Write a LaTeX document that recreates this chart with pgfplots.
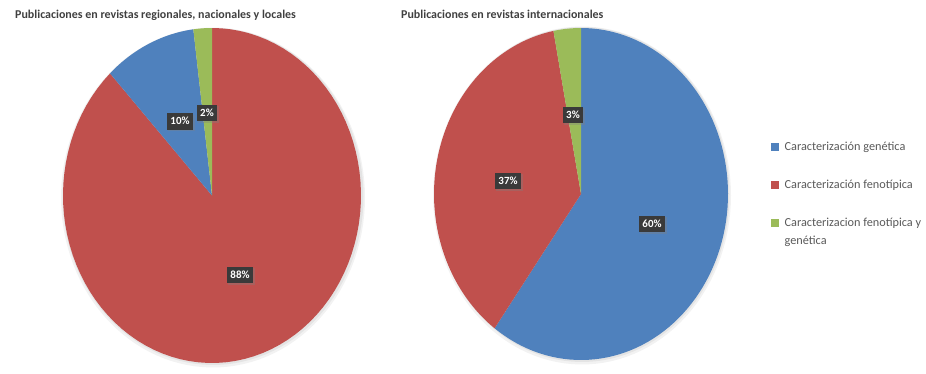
\documentclass[border=0pt]{standalone}
\usepackage{fontspec}
\setmainfont{Carlito}
\usepackage{pgfplots}
\pgfplotsset{compat=1.18}
\usetikzlibrary{shadows}
\definecolor{xblue}{HTML}{4F81BD}
\definecolor{xred}{HTML}{C0504D}
\definecolor{xgreen}{HTML}{9BBB59}
\definecolor{lbl}{HTML}{3A3A3A}
\definecolor{ttl}{HTML}{404040}
\definecolor{lgt}{HTML}{595959}

% data (percent)
% Pie 1: regionales, nacionales y locales
\def\Ogen{10}\def\Ofen{88}\def\Oamb{2}
% Pie 2: internacionales
\def\Tgen{60}\def\Tfen{37}\def\Tamb{3}

% angles (clockwise from the top)
\pgfmathsetmacro\aA{90-3.6*\Ofen}
\pgfmathsetmacro\aB{\aA-3.6*\Ogen}
\pgfmathsetmacro\aC{\aB-3.6*\Oamb}
\pgfmathsetmacro\bA{90-3.6*\Tgen}
\pgfmathsetmacro\bB{\bA-3.6*\Tfen}
\pgfmathsetmacro\bC{\bB-3.6*\Tamb}

\newcommand{\pieslice}[7]{%
  \addplot[forget plot, fill=#7, draw=none, domain=#5:#6, samples=90]
    ({#1+#3*cos(x)},{#2-#4*sin(x)}) -- (axis cs:#1,#2) -- cycle;
}
\newcommand{\pieshadow}[5]{%
  \addplot[forget plot, fill=black, draw=none, fill opacity=#5, domain=0:360, samples=120]
    ({#1+#3*cos(x)},{#2-#4*sin(x)}) -- cycle;
}

\tikzset{lblbox/.style={fill=lbl, text=white, font=\bfseries\fontsize{11}{12}\selectfont,
  inner xsep=3.5bp, inner ysep=3.5bp, text height=8bp, text depth=1.5bp,
  drop shadow={opacity=0.35, shadow xshift=1.5bp, shadow yshift=-1.5bp}}}

\begin{document}
\begin{tikzpicture}
\begin{axis}[
  width=926bp, height=374bp, scale only axis,
  xmin=0, xmax=926, ymin=0, ymax=374, y dir=reverse,
  hide axis, clip=false,
  legend image code/.code={\fill[#1] (0bp,0.3bp) rectangle (7bp,7.3bp);},
  legend style={at={(axis cs:771,139)}, anchor=north west, draw=none, fill=none,
    inner sep=0pt, row sep=23.5bp, column sep=4bp,
    font=\fontsize{12.3}{18}\selectfont, text=lgt,
    cells={anchor=base west, inner xsep=0pt, inner ysep=0pt, text height=9bp, text depth=3bp}},
]
\path (axis cs:0,0) rectangle (axis cs:926,374);
% soft shadows
\pieshadow{213}{197.5}{152}{170}{0.05}
\pieshadow{213}{196.5}{150.5}{168.5}{0.06}
\pieshadow{582}{195.5}{149}{169}{0.05}
\pieshadow{582}{194.5}{147.5}{167.5}{0.06}
% pie 1
\pieslice{212}{195.5}{149}{167.5}{\aA}{90}{xred}
\pieslice{212}{195.5}{149}{167.5}{\aB}{\aA}{xblue}
\pieslice{212}{195.5}{149}{167.5}{\aC}{\aB}{xgreen}
% pie 2
\pieslice{581}{194}{147}{166}{\bA}{90}{xblue}
\pieslice{581}{194}{147}{166}{\bB}{\bA}{xred}
\pieslice{581}{194}{147}{166}{\bC}{\bB}{xgreen}

\addlegendimage{xblue}
\addlegendimage{xred}
\addlegendimage{xgreen}
\legend{Caracterización genética, Caracterización fenotípica, {\begin{tabular}[t]{@{}l@{}}Caracterizacion fenotípica y\\genética\end{tabular}}}

% data labels
\node[lblbox] at (axis cs:180,121.5) {10\%};
\node[lblbox] at (axis cs:207,113) {2\%};
\node[lblbox] at (axis cs:240,275) {88\%};
\node[lblbox] at (axis cs:573,115) {3\%};
\node[lblbox] at (axis cs:508,181) {37\%};
\node[lblbox] at (axis cs:652,224) {60\%};

% titles
\node[anchor=base west, font=\bfseries\fontsize{12}{14}\selectfont, text=ttl, inner sep=0pt]
  at (axis cs:15,19) {Publicaciones en revistas regionales, nacionales y locales};
\node[anchor=base west, font=\bfseries\fontsize{12}{14}\selectfont, text=ttl, inner sep=0pt]
  at (axis cs:401,19) {Publicaciones en revistas internacionales};
\end{axis}
\end{tikzpicture}
\end{document}
